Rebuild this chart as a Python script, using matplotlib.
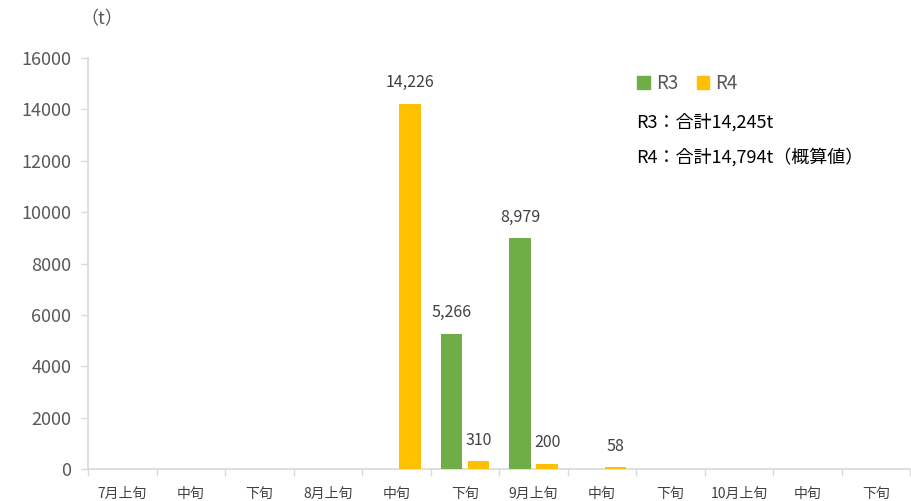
import numpy as np
import matplotlib
matplotlib.use('Agg')
from matplotlib import pyplot as plt
from matplotlib.patches import Rectangle

plt.rcParams['font.family'] = ['Noto Sans CJK JP', 'DejaVu Sans']

# data
periods = ['7月上旬', '中旬', '下旬', '8月上旬', '中旬', '下旬',
           '9月上旬', '中旬', '下旬', '10月上旬', '中旬', '下旬']
r3_values = [0, 0, 0, 0, 0, 5266, 8979, 0, 0, 0, 0, 0]
r4_values = [0, 0, 0, 0, 14226, 310, 200, 58, 0, 0, 0, 0]
y_ticks = [0, 2000, 4000, 6000, 8000, 10000, 12000, 14000, 16000]
series_names = ['R3', 'R4']
totals_text = ['R3：合計14,245t', 'R4：合計14,794t（概算値）']

green = '#70AD47'
yellow = '#FFC000'
gray_line = '#D9D9D9'
text_col = '#404040'


def main():
    fig = plt.figure(figsize=(9.12, 5.01), dpi=100)
    ax = fig.add_axes([0.0965, 0.0639, 0.9015, 0.8203])

    x = np.arange(len(periods))
    w = 0.31
    ax.bar(x - 0.195, r3_values, width=w, color=green, zorder=3)
    ax.bar(x + 0.2, r4_values, width=w, color=yellow, zorder=3)

    # data labels (skip zeros)
    for xi, v in zip(x, r3_values):
        if v > 0:
            ax.annotate(f'{v:,}', (xi - 0.195, v), xytext=(0, 9),
                        textcoords='offset points', ha='center', va='bottom',
                        fontsize=11.5, color=text_col)
    for xi, v in zip(x, r4_values):
        if v > 0:
            ax.annotate(f'{v:,}', (xi + 0.2, v), xytext=(0, 9),
                        textcoords='offset points', ha='center', va='bottom',
                        fontsize=11.5, color=text_col)

    ax.set_xlim(-0.5, len(periods) - 0.5)
    ax.set_ylim(0, 16000)
    ax.set_yticks(y_ticks)
    ax.set_yticklabels([str(t) for t in y_ticks], fontsize=13, color='#595959')
    ax.tick_params(axis='y', length=5, width=1, color=gray_line, pad=7)

    ax.set_xticks(x)
    ax.set_xticklabels(periods, fontsize=10, color=text_col)
    ax.tick_params(axis='x', which='major', length=0, pad=13)
    ax.set_xticks(np.arange(-0.5, len(periods)), minor=True)
    ax.tick_params(axis='x', which='minor', length=5, width=1, color=gray_line)

    for s in ['top', 'right']:
        ax.spines[s].set_visible(False)
    for s in ['left', 'bottom']:
        ax.spines[s].set_color(gray_line)
        ax.spines[s].set_linewidth(1.2)

    # unit label
    fig.text(0.088, 0.962, '（t）', fontsize=13, color='#595959', va='center')

    # legend
    for px, col, name in [(0.699, green, series_names[0]), (0.764, yellow, series_names[1])]:
        fig.patches.append(Rectangle((px, 0.822), 0.0135, 0.026, color=col,
                                     transform=fig.transFigure, figure=fig))
        fig.text(px + 0.02, 0.834, name, fontsize=13.5, color='#595959', va='center')

    fig.text(0.698, 0.756, totals_text[0], fontsize=13, color='black', va='center')
    fig.text(0.698, 0.686, totals_text[1], fontsize=13, color='black', va='center')

    fig.savefig('out.png', dpi=100)


if __name__ == '__main__':
    main()
